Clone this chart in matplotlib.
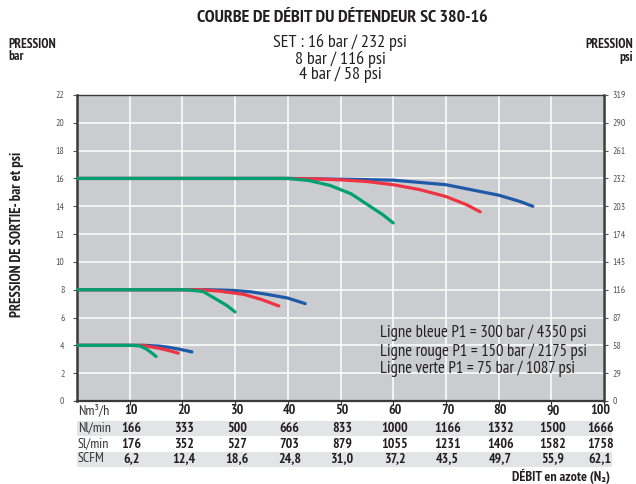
import matplotlib
matplotlib.use('Agg')
import matplotlib.pyplot as plt
import matplotlib.transforms as mtransforms
from matplotlib.patches import Rectangle

plt.rcParams['font.family'] = ['PT Sans Narrow', 'DejaVu Sans']

# flow (Nm3/h) vs outlet pressure (bar)
blue16_x = [0, 10, 20, 30, 40, 50, 60, 70, 80, 84, 86.5]
blue16_y = [16, 16, 16, 16, 16, 15.95, 15.88, 15.55, 14.8, 14.35, 14.0]
red16_x = [0, 10, 20, 30, 40, 45, 50, 55, 60, 65, 70, 74, 76.5]
red16_y = [16, 16, 16, 16, 16, 15.97, 15.9, 15.78, 15.55, 15.2, 14.7, 14.1, 13.6]
green16_x = [0, 10, 20, 30, 40, 44, 48, 52, 55.6, 58, 60]
green16_y = [16, 16, 16, 16, 16, 15.85, 15.5, 14.9, 14.0, 13.4, 12.8]

blue8_x = [0, 10, 20, 25, 29.7, 33, 36, 40, 43.3]
blue8_y = [8, 8, 8, 8, 7.95, 7.85, 7.67, 7.4, 7.0]
red8_x = [0, 10, 20, 23.3, 27, 31.6, 35, 38.3]
red8_y = [8, 8, 8, 8, 7.9, 7.67, 7.3, 6.83]
green8_x = [0, 10, 20.8, 24, 26.5, 28.5, 30]
green8_y = [8, 8, 8, 7.86, 7.3, 6.85, 6.4]

blue4_x = [0, 5, 10, 13, 15.5, 17.6, 20, 21.8]
blue4_y = [4, 4, 4, 4, 3.95, 3.85, 3.68, 3.53]
red4_x = [0, 5, 10, 12.5, 15.7, 17.5, 19.2]
red4_y = [4, 4, 4, 4, 3.78, 3.62, 3.44]
green4_x = [0, 5, 10.7, 12, 13.2, 14.2, 15]
green4_y = [4, 4, 4, 3.95, 3.73, 3.45, 3.2]

# table under the x axis
flow_ticks = [10, 20, 30, 40, 50, 60, 70, 80, 90, 100]
row_names = ['Nm³/h', 'Nl/min', 'Sl/min', 'SCFM']
nl_min = ['166', '333', '500', '666', '833', '1000', '1166', '1332', '1500', '1666']
sl_min = ['176', '352', '527', '703', '879', '1055', '1231', '1406', '1582', '1758']
scfm = ['6,2', '12,4', '18,6', '24,8', '31,0', '37,2', '43,5', '49,7', '55,9', '62,1']

bar_ticks = [0, 2, 4, 6, 8, 10, 12, 14, 16, 18, 20, 22]
psi_labels = ['0', '29', '58', '87', '116', '145', '174', '203', '232', '261', '290', '319']

legend_lines = ['Ligne bleue P1 = 300 bar / 4350 psi',
                'Ligne rouge P1 = 150 bar / 2175 psi',
                'Ligne verte P1 = 75 bar / 1087 psi']

BLUE = '#1f5aa8'
RED = '#ee3442'
GREEN = '#00a070'
TXT = '#231f20'

W, H = 636, 484
fig = plt.figure(figsize=(W / 100, H / 100), dpi=100)
ax = fig.add_axes([77 / W, 1 - 401 / H, (604 - 77) / W, (401 - 95) / H])
ax.set_facecolor('#cbcccf')


def fy(py):
    return 1 - py / H


def fx(px):
    return px / W


for xs, ys, c in [(blue16_x, blue16_y, BLUE), (red16_x, red16_y, RED),
                  (green16_x, green16_y, GREEN),
                  (blue8_x, blue8_y, BLUE), (red8_x, red8_y, RED),
                  (green8_x, green8_y, GREEN),
                  (blue4_x, blue4_y, BLUE), (red4_x, red4_y, RED),
                  (green4_x, green4_y, GREEN)]:
    ax.plot(xs, ys, color=c, lw=2.3, solid_capstyle='round', zorder=3)

ax.set_xlim(0, 100)
ax.set_ylim(0, 22)
ax.set_xticks(flow_ticks)
ax.set_xticklabels([])
ax.set_yticks(bar_ticks)
ax.set_yticklabels([str(t) for t in bar_ticks])
ax.grid(True, color='white', lw=1.1, zorder=1)
ax.set_axisbelow(True)
ax.tick_params(axis='y', length=3, width=0.8, labelsize=7, colors='#555555',
               pad=6)
ax.tick_params(axis='x', length=3, width=0.8, direction='out', colors='#333333')

for side in ['left', 'right']:
    ax.spines[side].set_color('#3a3a3a')
    ax.spines[side].set_linewidth(1.8)
ax.spines['bottom'].set_color('#3a3a3a')
ax.spines['bottom'].set_linewidth(1.6)
ax.spines['top'].set_color('#3a3a3a')
ax.spines['top'].set_linewidth(1.0)

ax2 = ax.twinx()
ax2.set_ylim(0, 22)
ax2.set_yticks(bar_ticks)
ax2.set_yticklabels(psi_labels)
ax2.tick_params(axis='y', length=3, width=0.8, labelsize=7, colors='#555555',
                pad=3)
for s in ax2.spines.values():
    s.set_visible(False)

# table
trans = mtransforms.blended_transform_factory(ax.transData, fig.transFigure)
for py0, py1 in [(421, 436), (452, 467)]:
    fig.add_artist(Rectangle((fx(77), fy(py1)), fx(612) - fx(77),
                             fy(py0) - fy(py1), transform=fig.transFigure,
                             facecolor='#e3e4e6', edgecolor='none', zorder=0))

row_y = [411, 428, 444, 459]
rows = [[str(v) for v in flow_ticks], nl_min, sl_min, scfm]
for name, vals, py in zip(row_names, rows, row_y):
    fig.text(fx(78), fy(py), name, fontsize=10, color='#333333',
             ha='left', va='center')
    for xv, lab in zip(flow_ticks, vals):
        ax.text(min(xv + 0.3, 99.3), fy(py), lab, transform=trans,
                fontsize=10, fontweight='bold', ha='center', va='center',
                color=TXT)

fig.text(fx(610), fy(476), 'DÉBIT en azote (N₂)', fontsize=10,
         fontweight='bold', ha='right', va='center', color=TXT)

# titles
fig.text(fx(342), fy(18), 'COURBE DE DÉBIT DU DÉTENDEUR SC 380-16',
         fontsize=13, fontweight='bold', ha='center', va='center', color=TXT)
for py, s in zip([42, 59, 75], ['SET : 16 bar / 232 psi', '8 bar / 116 psi',
                                '4 bar / 58 psi']):
    fig.text(fx(340), fy(py), s, fontsize=13, ha='center', va='center',
             color=TXT)

fig.text(fx(8), fy(44), 'PRESSION', fontsize=9.5, fontweight='bold',
         ha='left', va='center', color=TXT)
fig.text(fx(8), fy(57), 'bar', fontsize=9.5, fontweight='bold',
         ha='left', va='center', color=TXT)
fig.text(fx(633), fy(44), 'PRESSION', fontsize=9.5, fontweight='bold',
         ha='right', va='center', color=TXT)
fig.text(fx(633), fy(57), 'psi', fontsize=9.5, fontweight='bold',
         ha='right', va='center', color=TXT)

fig.text(fx(17), fy(234), 'PRESSION DE SORTIE- bar et psi', fontsize=10.5,
         fontweight='bold', rotation=90, ha='center', va='center', color=TXT)

for py, s in zip([333, 352, 369], legend_lines):
    fig.text(fx(380), fy(py), s, fontsize=12, ha='left', va='center',
             color=TXT)

fig.savefig('out.png', dpi=100)
